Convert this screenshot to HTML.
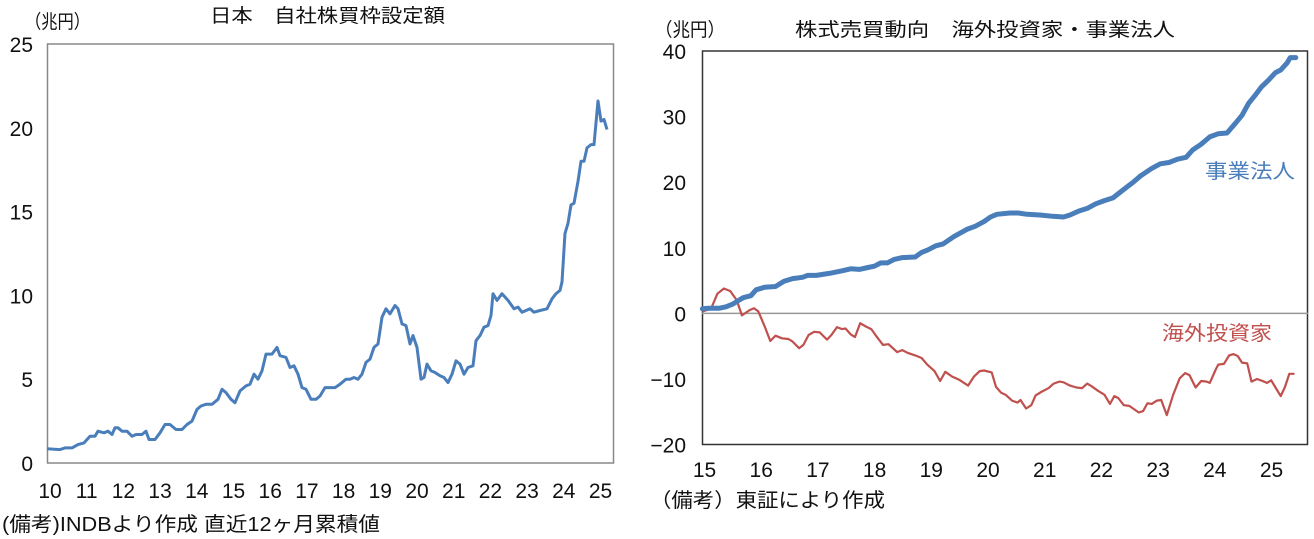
<!DOCTYPE html>
<html><head><meta charset="utf-8"><style>
html,body{margin:0;padding:0;background:#fff;width:1314px;height:539px;overflow:hidden}
svg text{font-family:"Liberation Sans","Noto Sans CJK JP",sans-serif;fill:#111}
</style></head><body>
<svg id="s" width="1314" height="539" xmlns="http://www.w3.org/2000/svg">
<text x="210" y="22" font-size="19" textLength="235" lengthAdjust="spacingAndGlyphs">日本　自社株買枠設定額</text>
<text x="25" y="28" font-size="19" textLength="65" lengthAdjust="spacingAndGlyphs">（兆円）</text>
<rect x="47.5" y="44" width="566" height="419" fill="none" stroke="#888" stroke-width="1.5"/>
<g font-size="21" text-anchor="end" id="ly"></g>
<g font-size="21" text-anchor="middle" id="lx"></g>
<text x="2" y="531" font-size="20" textLength="378" lengthAdjust="spacingAndGlyphs">(備考)INDBより作成 直近12ヶ月累積値</text>

<text x="655" y="36" font-size="19" textLength="70" lengthAdjust="spacingAndGlyphs">（兆円）</text>
<text x="795" y="36" font-size="19" textLength="380" lengthAdjust="spacingAndGlyphs">株式売買動向　海外投資家・事業法人</text>
<rect x="702.5" y="51" width="605" height="393.5" fill="none" stroke="#333" stroke-width="1.5"/>
<line x1="702" y1="313.4" x2="1308" y2="313.4" stroke="#999" stroke-width="1.5"/>
<g font-size="21" text-anchor="end" id="ry"></g>
<g font-size="21" text-anchor="middle" id="rx"></g>
<text x="650" y="507" font-size="20" textLength="235" lengthAdjust="spacingAndGlyphs">（備考）東証により作成</text>
<text x="1205" y="178" font-size="20" textLength="90" lengthAdjust="spacingAndGlyphs" style="fill:#4a7ebb">事業法人</text>
<text x="1162" y="340" font-size="20" textLength="110" lengthAdjust="spacingAndGlyphs" style="fill:#c0504d">海外投資家</text>
<polyline id="lp" fill="none" stroke="#4a7ebb" stroke-width="3" stroke-linejoin="round"/>
<polyline id="rr" fill="none" stroke="#c0504d" stroke-width="2.2" stroke-linejoin="round"/>
<polyline id="rb" fill="none" stroke="#4a7ebb" stroke-width="5" stroke-linejoin="round" stroke-linecap="round"/>
</svg>
<script>
var NS="http://www.w3.org/2000/svg";
function t(g,x,y,s){var e=document.createElementNS(NS,"text");e.setAttribute("x",x);e.setAttribute("y",y);e.textContent=s;document.getElementById(g).appendChild(e);}
for(var v=0;v<=25;v+=5){var y=463-16.76*v;t("ly",33,y+8,v);}
for(var i=10;i<=25;i++){t("lx",50+36.7*(i-10),498,i);}
for(var v=-20;v<=40;v+=10){var y=313.4-6.56*v;t("ry",686,y+8,v==-20?"−20":v==-10?"−10":v);}
for(var i=15;i<=25;i++){t("rx",704.5+56.7*(i-15),477,i);}
var L=[47,0.85,60,0.8,65,0.9,72,0.9,78,1.1,84,1.2,90,1.6,95,1.6,98,1.9,104,1.8,108,1.9,112,1.7,115,2.1,118,2.1,122,1.9,127,1.9,132,1.6,136,1.7,142,1.7,146,1.9,149,1.4,155,1.4,160,1.8,165,2.3,170,2.3,176,2.0,182,2.0,187,2.3,192,2.5,197,3.2,201,3.4,206,3.5,212,3.5,218,3.8,222,4.4,226,4.2,231,3.8,235,3.6,240,4.3,246,4.6,250,4.7,254,5.3,258,5.0,262,5.5,266,6.5,272,6.5,277,6.9,280,6.4,286,6.3,290,5.7,294,5.8,298,5.3,302,4.5,306,4.4,311,3.8,316,3.8,320,4.0,325,4.5,330,4.5,335,4.5,340,4.7,346,5.0,350,5.0,354,5.1,358,5.0,362,5.3,366,6.0,370,6.2,374,6.9,378,7.1,382,8.7,386,9.2,390,8.9,395,9.4,398,9.2,402,8.3,406,8.2,410,7.1,413,7.6,417,6.9,421,5.0,424,5.1,427,5.9,431,5.5,435,5.4,440,5.2,444,5.1,448,4.8,452,5.3,456,6.1,460,5.9,464,5.3,468,5.7,473,5.8,476,7.3,480,7.6,484,8.1,488,8.2,491,8.8,493,10.1,497,9.7,502,10.1,508,9.7,514,9.2,518,9.3,522,9.0,526,9.1,530,9.2,534,9.0,540,9.1,547,9.2,552,9.8,556,10.1,560,10.3,562,10.8,565,13.7,568,14.3,571,15.4,574,15.5,578,16.8,581,18.0,584,18.0,587,18.8,591,19.0,594,19.0,598,21.6,601,20.4,604,20.5,607,19.9];
var p=[];for(var i=0;i<L.length;i+=2)p.push(L[i]+","+(463-16.76*L[i+1]).toFixed(1));
document.getElementById("lp").setAttribute("points",p.join(" "));
var R=[145,0.3,165,0.7,180,3,195,3.8,210,3.4,225,2,237,-0.3,255,0.5,265,0.8,275,0.3,290,-2,303,-4.2,315,-3.4,330,-3.8,345,-3.9,355,-4.3,370,-5.3,380,-4.8,392,-3.3,405,-2.8,418,-2.9,435,-4,445,-3.3,458,-2.1,470,-2.4,478,-2.3,490,-3.2,500,-3.6,512,-1.5,525,-2,538,-2.4,550,-3.5,565,-4.8,578,-4.7,598,-5.9,610,-5.6,622,-6,640,-6.4,655,-6.8,668,-7.8,685,-8.8,698,-10.3,710,-8.9,725,-9.6,742,-10.1,763,-11,777,-9.6,790,-8.8,800,-8.7,818,-9,828,-11.2,840,-12.1,850,-12.4,865,-13.3,878,-13.6,885,-13.2,898,-14.5,910,-14,920,-12.5,935,-11.9,950,-11.4,962,-10.7,975,-10.4,985,-10.5,1000,-11,1015,-11.3,1028,-11.4,1040,-10.7,1050,-11.1,1065,-11.8,1080,-12.4,1093,-13.8,1103,-12.6,1112,-12.9,1125,-14,1138,-14.1,1160,-15.1,1170,-14.9,1180,-13.7,1190,-13.8,1202,-13.3,1212,-13.2,1225,-15.5,1240,-12.4,1255,-9.9,1268,-9.1,1278,-9.4,1292,-11.3,1305,-10.3,1318,-10.4,1325,-10.6,1340,-8.4,1345,-7.8,1358,-7.7,1370,-6.4,1380,-6.2,1390,-6.5,1400,-7.5,1412,-7.6,1422,-10.4,1435,-10,1448,-10.3,1458,-10.6,1468,-10.2,1478,-11.3,1490,-12.6,1500,-11.2,1510,-9.2,1522,-9.2];
var B=[145,0.7,160,0.8,185,0.8,200,1,215,1.4,230,2,240,2.4,258,2.7,270,3.6,290,4,315,4.1,335,4.9,355,5.3,378,5.5,390,5.8,410,5.8,440,6.1,470,6.5,490,6.8,510,6.7,530,7.0,545,7.2,560,7.7,575,7.7,590,8.2,610,8.5,640,8.6,655,9.3,670,9.7,688,10.3,705,10.6,730,11.7,760,12.8,780,13.3,800,14,815,14.7,830,15.1,860,15.3,880,15.3,900,15.1,930,15.0,960,14.8,985,14.7,1000,15.0,1020,15.6,1040,16,1060,16.7,1080,17.2,1100,17.6,1125,18.9,1145,19.9,1165,21,1190,22.1,1210,22.8,1230,23,1250,23.5,1270,23.8,1285,24.9,1305,25.8,1325,26.9,1345,27.4,1365,27.5,1385,29,1400,30.2,1415,32,1430,33.2,1445,34.5,1462,35.6,1478,36.7,1490,37.1,1505,38.2,1512,39,1525,39];
function rp(A,id){var q=[];for(var i=0;i<A.length;i+=2)q.push((640+A[i]*0.43).toFixed(1)+","+(313.4-6.56*A[i+1]).toFixed(1));document.getElementById(id).setAttribute("points",q.join(" "));}
rp(R,"rr");rp(B,"rb");
</script>
</body></html>
